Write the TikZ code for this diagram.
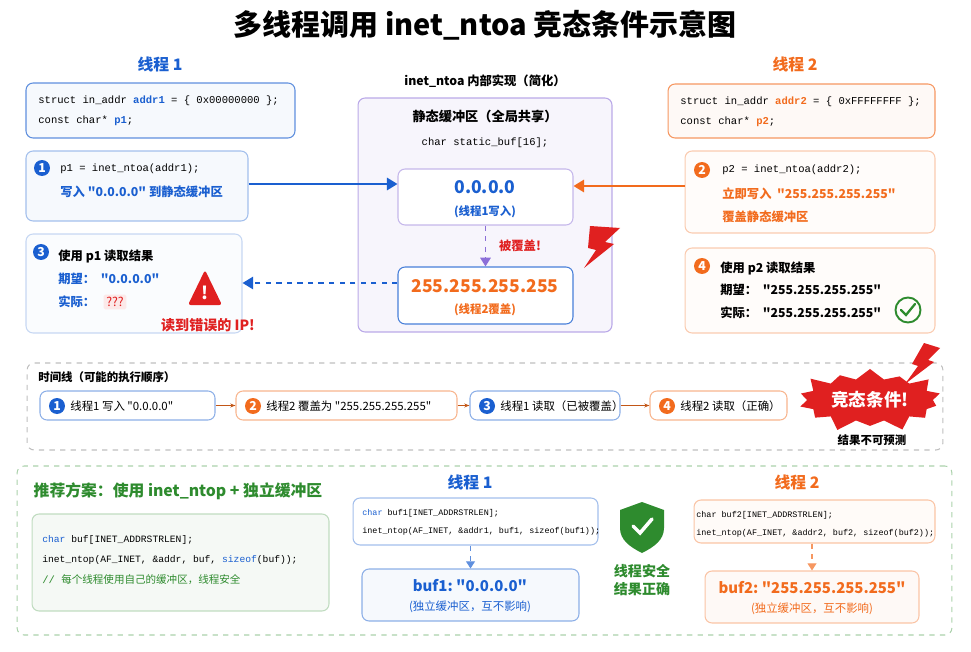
\documentclass[tikz,border=0pt]{standalone}
\usepackage{fontspec}
\setmainfont{Noto Sans CJK SC}[Ligatures=TeXOff]
\setmonofont{Liberation Mono}
\newfontfamily\cjk{Noto Sans CJK SC}[Ligatures=TeXOff]
\usetikzlibrary{shapes.symbols,arrows.meta}
\definecolor{tblue}{HTML}{1A5FD0}
\definecolor{torange}{HTML}{F26B1D}
\definecolor{tred}{HTML}{E02020}
\definecolor{tgreen}{HTML}{2E8B2E}
\definecolor{tpurple}{HTML}{8C6FD8}
\tikzset{
  box/.style = {draw, rounded corners=4pt, line width=0.6pt, inner sep=0pt},
  bbox/.style = {box, draw=tblue!70, fill=tblue!4},
  obox/.style = {box, draw=torange!70, fill=torange!4},
  num/.style = {circle, fill=#1, text=white, font=\bfseries\scriptsize, inner sep=0pt, minimum size=0.32cm},
  txt/.style = {anchor=west, font=\fontsize{7}{8}\selectfont, inner sep=0pt},
  code/.style = {anchor=west, font=\ttfamily\fontsize{6}{7}\selectfont, inner sep=0pt},
  scode/.style = {anchor=west, font=\ttfamily\fontsize{4.8}{6}\selectfont, inner sep=0pt},
  head/.style = {font=\bfseries\fontsize{9}{10}\selectfont, inner sep=0pt},
}
\begin{document}
\begin{tikzpicture}[x=0.02cm, y=-0.02cm]
  \useasboundingbox (0,0) rectangle (971,652);
  \node [head, font=\bfseries\fontsize{16.5}{18}\selectfont] (title) at (485,25) {多线程调用 inet\_ntoa 竞态条件示意图};

  % thread 1
  \node [head, text=tblue] (t1) at (160,64) {线程 1};
  \node [bbox, minimum width=5.38cm, minimum height=1.1cm] (a1) at (160.5,110.5) {};
  \node [code] (a1l1) at (38,101) {struct in\_addr \textcolor{tblue}{\bfseries addr1} = \{ 0x00000000 \};};
  \node [code] (a1l2) at (38,121) {const char* \textcolor{tblue}{\bfseries p1};};
  \node [bbox, draw=tblue!40, minimum width=4.44cm, minimum height=1.4cm] (s1) at (137,186) {};
  \node [num=tblue] (n1) at (42,168) {1};
  \node [code] (s1l1) at (60,169) {p1 = inet\_ntoa(addr1);};
  \node [txt, text=tblue, font=\bfseries\fontsize{7}{8}\selectfont] (s1l2) at (60,192) {写入 "0.0.0.0" 到静态缓冲区};
  \node [bbox, draw=tblue!25, fill=tblue!2, minimum width=4.32cm, minimum height=1.98cm] (r1) at (134,283.5) {};
  \node [num=tblue] (n3) at (41,252) {3};
  \node [txt, font=\bfseries\fontsize{7}{8}\selectfont] (r1l1) at (58,256) {使用 p1 读取结果};
  \node [txt, text=tblue, font=\bfseries\fontsize{7}{8}\selectfont] (r1l2) at (58,279) {期望：\ \ "0.0.0.0"};
  \node [txt, text=tblue, font=\bfseries\fontsize{7}{8}\selectfont] (r1l3) at (58,302) {实际：};
  \node [fill=tred!10, text=tred, font=\fontsize{7}{8}\selectfont, inner sep=1.5pt, rounded corners=1pt] (qq) at (115,302) {???};
  \fill [tred, rounded corners=1.5pt] (205,270) -- (222,305) -- (188,305) -- cycle;
  \node [text=white, font=\bfseries\fontsize{10}{10}\selectfont] (warn) at (205,293) {!};
  \node [text=tred, font=\bfseries\fontsize{8}{9}\selectfont] (wrong) at (208,325) {读到错误的 IP!};

  % shared buffer
  \node [font=\bfseries\fontsize{7}{8}\selectfont] (inl) at (485,81) {inet\_ntoa 内部实现（简化）};
  \node [box, draw=tpurple!60, fill=tpurple!7, minimum width=5.08cm, minimum height=4.68cm] (sb) at (485,215) {};
  \node [font=\bfseries\fontsize{7.5}{8}\selectfont] (sbl) at (485,116) {静态缓冲区（全局共享）};
  \node [font=\ttfamily\fontsize{6}{7}\selectfont] (sbc) at (485,143) {char static\_buf[16];};
  \node [box, draw=tpurple!50, fill=white, minimum width=3.5cm, minimum height=1.12cm] (b1) at (485.5,197) {};
  \node [text=tblue, font=\bfseries\fontsize{10}{11}\selectfont] (b1v) at (485,187) {0.0.0.0};
  \node [text=tblue, font=\bfseries\fontsize{6.5}{7}\selectfont] (b1s) at (485,212) {(线程1写入)};
  \node [box, draw=tblue!80, fill=white, minimum width=3.5cm, minimum height=1.14cm] (b2) at (485.5,295.5) {};
  \node [text=torange, font=\bfseries\fontsize{10}{11}\selectfont] (b2v) at (485,286) {255.255.255.255};
  \node [text=torange, font=\bfseries\fontsize{6.5}{7}\selectfont] (b2s) at (485,310) {(线程2覆盖)};
  \draw [tpurple, dashed, line width=0.8pt, -{Triangle[length=5pt,width=6pt]}] (b1) -- (b2);
  \node [text=tred, font=\bfseries\fontsize{7}{8}\selectfont] (ovw) at (520,246) {被覆盖!};
  \fill [tred] (590,226) -- (620,228) -- (605,242) -- (614,244) -- (584,268) -- (596,250) -- (588,248) -- cycle;

  % thread 2
  \node [head, text=torange] (t2) at (795,64) {线程 2};
  \node [obox, minimum width=5.34cm, minimum height=1.08cm] (a2) at (801.5,111) {};
  \node [code] (a2l1) at (680,102) {struct in\_addr \textcolor{torange}{\bfseries addr2} = \{ 0xFFFFFFFF \};};
  \node [code] (a2l2) at (680,122) {const char* \textcolor{torange}{\bfseries p2};};
  \node [obox, draw=torange!35, fill=torange!2, minimum width=5cm, minimum height=1.64cm] (s2) at (810,192) {};
  \node [num=torange] (n2) at (702,170) {2};
  \node [code] (s2l1) at (722,170) {p2 = inet\_ntoa(addr2);};
  \node [txt, text=torange, font=\bfseries\fontsize{7}{8}\selectfont] (s2l2) at (722,194) {立即写入 \ "255.255.255.255"};
  \node [txt, text=torange, font=\bfseries\fontsize{7}{8}\selectfont] (s2l3) at (722,217) {覆盖静态缓冲区};
  \node [obox, draw=torange!35, fill=torange!2, minimum width=5cm, minimum height=1.7cm] (r2) at (810,290.5) {};
  \node [num=torange] (n4) at (702,266) {4};
  \node [txt, font=\bfseries\fontsize{7}{8}\selectfont] (r2l1) at (720,268) {使用 p2 读取结果};
  \node [txt, font=\bfseries\fontsize{7}{8}\selectfont] (r2l2) at (720,290) {期望：\ \ "255.255.255.255"};
  \node [txt, font=\bfseries\fontsize{7}{8}\selectfont] (r2l3) at (720,313) {实际：\ \ "255.255.255.255"};
  \node [circle, draw=tgreen, line width=1.1pt, minimum size=0.5cm] (ok) at (908,310) {};
  \draw [tgreen, line width=1.3pt, line cap=round] (901,310) -- (906,315) -- (915,304);

  \draw [tblue, line width=1.2pt, -{Triangle[length=6pt,width=7pt]}] (s1.east |- 0,184) -- (b1.west |- 0,184);
  \draw [torange, line width=1.2pt, -{Triangle[length=6pt,width=7pt]}] (s2.west |- 0,186) -- (b1.east |- 0,186);
  \draw [tblue, dashed, line width=0.9pt, -{Triangle[length=6pt,width=7pt]}] (b2.west |- 0,283) -- (r1.east |- 0,283);

  % timeline
  \node [box, draw=black!25, dashed, fill=none, minimum width=18.32cm, minimum height=1.74cm] (tl) at (485,406.5) {};
  \node [txt, font=\bfseries\fontsize{6.5}{7}\selectfont] (tll) at (38,377) {时间线（可能的执行顺序）};
  \foreach \name/\xa/\xb/\col/\n/\lab in {
      st1/40/215/tblue/1/线程1 写入 "0.0.0.0",
      st2/236/457/torange/2/线程2 覆盖为 "255.255.255.255",
      st3/470/620/tblue/3/线程1 读取（已被覆盖）,
      st4/650/787/torange/4/线程2 读取（正确）} {
    \node [box, draw=\col!50, fill=white, minimum width=(\xb-\xa)*0.02cm, minimum height=0.58cm] (\name) at ({(\xa+\xb)/2},405.5) {};
    \node [num=\col] (\name n) at (\xa+17,406) {\n};
    \node [txt, font=\fontsize{6.5}{7}\selectfont] (\name t) at (\xa+30,406) {\lab};
  }
  \foreach \a/\b in {st1/st2, st2/st3, st3/st4}
    \draw [torange!80!black, line width=0.6pt, -{Stealth[length=3pt]}] (\a) -- (\b);
  \node [starburst, starburst points=14, starburst point height=0.28cm, fill=tred, minimum width=2.4cm, minimum height=1.4cm, text=white, font=\bfseries\fontsize{10}{11}\selectfont] (race) at (870,400) {竞态条件!};
  \node [font=\bfseries\fontsize{6.5}{7}\selectfont] (race2) at (872,440) {结果不可预测};
  \fill [tred] (924,343) -- (940,348) -- (928,360) -- (934,362) -- (905,384) -- (918,366) -- (912,364) -- cycle;

  % recommendation
  \node [box, draw=tgreen!40, dashed, fill=none, minimum width=18.7cm, minimum height=3.38cm] (rec) at (484.5,550.5) {};
  \node [head, text=tgreen] (recl) at (178,491) {推荐方案：使用 inet\_ntop + 独立缓冲区};
  \node [box, draw=tgreen!30, fill=tgreen!5, minimum width=5.94cm, minimum height=1.94cm] (rc) at (180.5,562.5) {};
  \node [code, font=\ttfamily\fontsize{5.5}{6}\selectfont] (rc1) at (42,540) {\textcolor{tblue}{char} buf[INET\_ADDRSTRLEN];};
  \node [code, font=\ttfamily\fontsize{5.5}{6}\selectfont] (rc2) at (42,560) {inet\_ntop(AF\_INET, \&addr, buf, \textcolor{tblue}{sizeof}(buf));};
  \node [txt, text=tgreen, font=\fontsize{6}{7}\selectfont] (rc3) at (42,580) {\ttfamily // \cjk 每个线程使用自己的缓冲区，线程安全};

  \node [head, text=tblue] (u1) at (470,482) {线程 1};
  \node [bbox, draw=tblue!40, fill=white, minimum width=4.9cm, minimum height=0.94cm] (c1) at (475.5,521.5) {};
  \node [scode] (c1l1) at (362,513) {\textcolor{tblue}{char} buf1[INET\_ADDRSTRLEN];};
  \node [scode] (c1l2) at (362,531) {inet\_ntop(AF\_INET, \&addr1, buf1, sizeof(buf1));};
  \node [bbox, draw=tblue!50, minimum width=4.34cm, minimum height=1.04cm] (d1) at (470.5,595) {};
  \node [text=tblue, font=\bfseries\fontsize{8.5}{9}\selectfont] (d1v) at (470,586) {buf1:\ "0.0.0.0"};
  \node [text=tblue, font=\fontsize{6.5}{7}\selectfont] (d1s) at (470,607) {(独立缓冲区，互不影响)};
  \draw [tblue!70, dashed, line width=0.6pt, -{Triangle[length=4pt,width=5pt]}] (c1.south -| d1) -- (d1);

  \fill [tgreen] (642,502) -- (664,510) -- (664,528) .. controls (664,540) and (654,547) .. (642,553) .. controls (630,547) and (620,540) .. (620,528) -- (620,510) -- cycle;
  \draw [white, line width=2pt, line cap=round] (633,526) -- (640,533) -- (652,519);
  \node [text=tgreen, font=\bfseries\fontsize{8}{9}\selectfont, align=center] (safe) at (642,580) {线程安全\\[1pt]结果正确};

  \node [head, text=torange] (u2) at (797,482) {线程 2};
  \node [obox, draw=torange!40, fill=torange!3, minimum width=4.82cm, minimum height=0.86cm] (c2) at (814.5,521.5) {};
  \node [scode] (c2l1) at (696,515) {char buf2[INET\_ADDRSTRLEN];};
  \node [scode] (c2l2) at (696,533) {inet\_ntop(AF\_INET, \&addr2, buf2, sizeof(buf2));};
  \node [obox, draw=torange!40, fill=torange!4, minimum width=4.28cm, minimum height=1.04cm] (d2) at (812,597) {};
  \node [text=torange, font=\bfseries\fontsize{8.5}{9}\selectfont] (d2v) at (812,588) {buf2:\ "255.255.255.255"};
  \node [text=torange, font=\fontsize{6.5}{7}\selectfont] (d2s) at (812,609) {(独立缓冲区，互不影响)};
  \draw [torange!70, dashed, line width=0.6pt, -{Triangle[length=4pt,width=5pt]}] (c2.south -| d2) -- (d2);
\end{tikzpicture}
\end{document}
